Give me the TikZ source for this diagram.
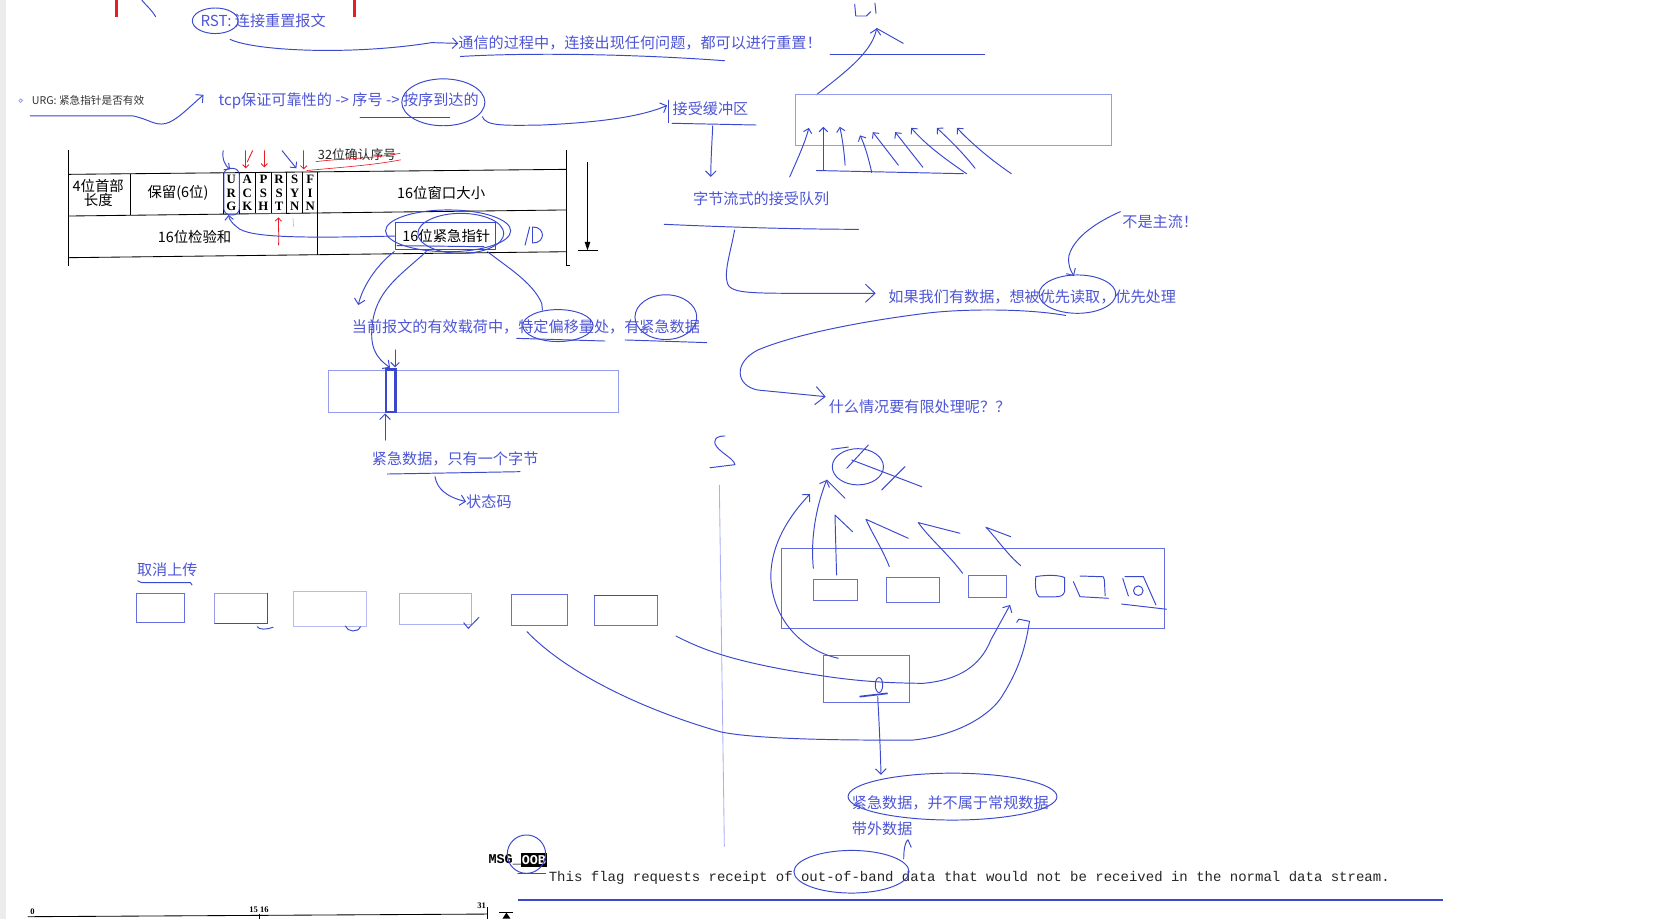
\documentclass[tikz,border=0pt]{standalone}
\usepackage{fontspec}
\setmainfont{Noto Sans CJK SC}
\newfontfamily\myMono{Liberation Mono}
\newfontfamily\mySerif{Liberation Serif}
\usetikzlibrary{arrows.meta}
\definecolor{hb}{RGB}{58,72,206}
\definecolor{tb}{RGB}{78,86,214}
\definecolor{lb}{RGB}{150,156,236}
\definecolor{mb}{RGB}{100,110,222}
\definecolor{rd}{RGB}{232,28,36}
\definecolor{gstrip}{RGB}{236,236,236}
\newcommand{\myNF}{\fontsize{14.2}{16}\selectfont}
\newcommand{\myTF}{\fontsize{13.5}{15}\selectfont}
\begin{document}
\begin{tikzpicture}[x=1pt,y=-1pt,
  hand/.style={draw=hb,line width=0.9pt,line cap=round,line join=round},
  harr/.style={hand,-{Straight Barb[length=5pt,width=10pt]}},
  harrs/.style={hand,-{Straight Barb[length=4pt,width=8pt]}},
  harrL/.style={hand,-{Straight Barb[length=9pt,width=17pt]}},
  note/.style={text=tb,font=\myNF,inner sep=0pt,anchor=west},
  cell/.style={text=black,font=\myTF,inner sep=0pt},
  flagtxt/.style={text=black,font=\mySerif\bfseries\fontsize{12}{13}\selectfont,inner sep=0pt},
  lrect/.style={draw=lb,line width=0.7pt},
  mrect/.style={draw=mb,line width=0.7pt},
  tbl/.style={draw=black,line width=0.8pt},
  redm/.style={draw=rd,line width=0.8pt,line cap=round},
  redarr/.style={redm,-{Straight Barb[length=3pt,width=6pt]}},
  mono/.style={font=\myMono\fontsize{13.15}{15}\selectfont,inner sep=0pt,anchor=west,text=black!85}
]
\useasboundingbox (0,0) rectangle (1568,862);
\fill[white] (0,0) rectangle (1568,862);
\fill[gstrip] (0,0) rectangle (6,862);

% ---------- top ----------
\draw[rd,line width=2.6pt] (109,0) -- (109,15.6);
\draw[rd,line width=2.6pt] (333,0) -- (333,15.6);
\draw[hand] (133,0) .. controls (138,6) and (143,10) .. (146,15.6);

\node[note] (rst) at (188,19.4) {RST: 连接重置报文};
\draw[hand] (202,19.5) ellipse [x radius=21.5, y radius=12];
\node[note] (tx) at (430,40.7) {通信的过程中，连接出现任何问题，都可以进行重置！};
\draw[harr] (216,37) .. controls (240,48) and (330,52) .. (405,40) -- (tx.west);
\draw[hand] (432,53) .. controls (500,49) and (600,51) .. (680,57);

\draw[hand] (779,50.7) -- (924,50.7);
\coordinate (uptip) at (822.6,26.6);
\draw[harr] (766,89) .. controls (790,70) and (818,50) .. (uptip);
\draw[hand] (uptip) -- (847.6,40.7);
\draw[hand] (802,4) -- (803,15) -- (813,15) -- (817,11);
\draw[hand] (821,3) -- (822,12.5);

% receive buffer
\draw[lrect] (746,89) rectangle (1043,136);
\draw[harrs] (741,166) .. controls (748,150) and (755,135) .. (759,120);
\draw[harrs] (772.6,160) -- (772.6,119);
\draw[harrs] (793,155) .. controls (792,140) and (790,128) .. (788,119);
\draw[harrs] (818,162) .. controls (815,148) and (811,135) .. (807,127);
\draw[harrs] (843,155) -- (819,124);
\draw[harrs] (866,157) -- (840,124);
\draw[harrs] (907,163) .. controls (885,148) and (868,135) .. (855,120);
\draw[harrs] (915,158) .. controls (905,145) and (892,132) .. (879,120);
\draw[harrs] (949,163) .. controls (930,150) and (912,135) .. (898,120);
\draw[hand] (766,160) -- (904,163);

% URG line
\draw[lb,line width=0.7pt] (19.4,94.5) circle (1.7);
\node[anchor=west,inner sep=0pt,text=black!80,font=\fontsize{10}{12}\selectfont] (urg) at (29.7,94.5) {URG: 紧急指针是否有效};
\node[note] (tcp) at (204.9,94.5) {tcp保证可靠性的 -> 序号 -> 按序到达的};
\draw[harr] (28.2,108.8) -- (125,108.8) .. controls (140,112) and (145,118) .. (155,116) .. controls (165,114) and (178,100) .. (191,89);
\draw[hand] (416,96) ellipse [x radius=39, y radius=22];
\draw[hand] (338,110) -- (422,110);
\node[note] (jsbuf) at (631,101.6) {接受缓冲区};
\draw[harr] (452.6,109.5) .. controls (456,118) and (470,118) .. (508.6,117.3) .. controls (560,115) and (600,110) .. (626,99);
\draw[hand] (627,94) -- (627,115);
\draw[hand] (630.6,115.7) -- (709.5,117.3);
\node[note] (zjl) at (650.2,186.1) {字节流式的接受队列};
\draw[harr] (668.8,118) .. controls (668,135) and (667,150) .. (667,166);
\draw[hand] (623.3,210.5) .. controls (680,213) and (740,215) .. (805.6,215.2);

\node[note] (rg) at (833.5,278.4) {如果我们有数据，想被优先读取，优先处理};
\draw[harrL] (689.3,215.8) .. controls (686,235) and (679,255) .. (682.6,266) .. controls (685,274) and (700,275) .. (734.6,275.2) -- (821.7,275.2);
\node[note] (bszl) at (1053,208) {不是主流！};
\draw[harr] (1051.3,198.6) .. controls (1030,208) and (1008,222) .. (1003,240) .. controls (1002,248) and (1004,253) .. (1007.7,259);
\draw[hand] (1011,276) ellipse [x radius=36, y radius=18];
\node[note] (smqk) at (777.5,381.6) {什么情况要有限处理呢？？};
\draw[harrL] (1000,296) .. controls (960,289) and (900,290) .. (868.6,294) .. controls (820,300) and (750,312) .. (711.2,328.4) .. controls (688,340) and (690,362) .. (711.2,366) -- (774.8,372.2);

% ---------- TCP header table ----------
\draw[tbl] (64.4,141) -- (64.4,250);
\draw[tbl] (531.9,141) -- (531.9,249) -- (535,249);
\draw[tbl] (64.4,163.6) -- (531.9,158.9);
\draw[tbl] (64.4,202.7) -- (531.9,197);
\draw[tbl] (64.4,241.8) -- (531.9,236.2);
\foreach \x/\a/\b in {122.4/163/202, 209.4/162.1/200.9, 224.6/161.9/200.7, 239.6/161.8/200.6, 254.7/161.7/200.4, 269.1/161.5/200.2, 283.9/161.4/200.0, 298.3/161.2/199.8}
  \draw[tbl] (\x,\a) -- (\x,\b);
\draw[tbl] (298.3,199.8) -- (298.3,239);
\node[cell] (c1) at (92.2,174.5) {4位首部};
\node[cell] (c1b) at (92.2,188) {长度};
\node[cell] (c2) at (167,180.5) {保留(6位)};
\foreach \cx/\l in {217/U,232.1/A,247.2/P,261.9/R,276.5/S,291.1/F} \node[flagtxt] at (\cx,168.5) {\l};
\foreach \cx/\l in {217/R,232.1/C,247.2/S,261.9/S,276.5/Y,291.1/I} \node[flagtxt] at (\cx,181) {\l};
\foreach \cx/\l in {217/G,232.1/K,247.2/H,261.9/T,276.5/N,291.1/N} \node[flagtxt] at (\cx,193.5) {\l};
\node[cell] (win) at (414,181.5) {16位窗口大小};
\node[cell] (chk) at (182.6,222.5) {16位检验和};
\node[cell] (urgp) at (418.9,221.5) {16位紧急指针};
\node[cell,font=\fontsize{12}{13}\selectfont,text=black!85] (ack32) at (335,145) {32位确认序号};
\draw[black,line width=0.9pt,-{Triangle[length=8pt,width=5pt]}] (551.3,151.7) -- (551.3,235);
\draw[black,line width=0.9pt] (542.3,235.2) -- (561.3,235.2);

% red marks
\draw[redarr] (230.6,141.4) -- (230.6,158);
\draw[redm] (237,141.4) -- (232,152);
\draw[redarr] (248,141.4) -- (248,157);
\draw[redarr] (285,141.4) -- (285,159);
\draw[redm,line width=0.6pt] (296.5,151.7) .. controls (315,149) and (350,149) .. (375.4,143.9);
\draw[redm,line width=0.6pt] (288,160) .. controls (320,157) and (350,155) .. (376,150);
\draw[redm] (239.6,200.6) -- (268,200.6);
\draw[redarr] (261.4,229.9) .. controls (262,220) and (261,212) .. (261.4,204);
\draw[rd!40,line width=0.6pt] (274.9,204.9) -- (275.5,212.7);

% blue marks on table
\draw[hand,rounded corners=6pt] (210,158) rectangle (224.6,201.7);
\draw[harrs] (209.4,141.4) .. controls (208,150) and (212,156) .. (215.9,158.9);
\draw[harrs] (264.7,141.4) -- (278.1,157.9);
\draw[harrs] (370.3,221.5) .. controls (300,223) and (240,224) .. (225,215) .. controls (218,210) and (215,206) .. (214.5,201.7);
\draw[hand,line width=0.7pt] (371.3,209) rectangle (465.1,233.6);
\draw[hand] (372.5,230.5) -- (454,231.5);
\draw[hand] (420.5,216.6) ellipse [x radius=58.7, y radius=19.6];
\draw[hand] (432.4,219) ellipse [x radius=40.3, y radius=18.8];
\draw[hand] (492.7,230) -- (497,213);
\draw[hand] (500,213) -- (500,228);
\draw[hand] (500,213) .. controls (512,213) and (512,228) .. (500,228);

% ---------- urgent pointer explanation ----------
\node[note] (dq) at (330,306.5) {当前报文的有效载荷中，特定偏移量处，有紧急数据};
\draw[harr] (370,236) .. controls (352,250) and (340,270) .. (336.2,286.2);
\draw[harr] (400,236) .. controls (380,255) and (355,270) .. (350,300) .. controls (346,325) and (352,335) .. (366,345);
\draw[harrs] (370.7,328.4) -- (370.7,344.7);
\draw[hand] (457.5,236.2) .. controls (475,250) and (500,265) .. (508.3,284.6) -- (509,291);
\draw[hand] (523.5,305.5) ellipse [x radius=33, y radius=15];
\draw[hand] (624.8,297.6) ellipse [x radius=29, y radius=21];
\draw[hand] (484.8,317.5) -- (567.7,320);
\draw[hand] (586.5,319) -- (663.1,321.5);
\draw[lrect] (308.1,347.2) rectangle (580.2,386.9);
\draw[hb,line width=2.2pt] (362.2,346.6) rectangle (371,386.3);
\node[note] (jj1) at (348.8,431) {紧急数据，只有一个字节};
\draw[harr] (361.3,412.9) -- (361.3,388);
\draw[hand] (363.4,444.8) -- (488,442.6);
\node[note] (ztm) at (437.3,470.7) {状态码};
\draw[harr] (408.2,447.3) .. controls (410,458) and (418,466) .. (ztm.west);

% ---------- cancel upload ----------
\node[note] (qx) at (128.4,534.9) {取消上传};
\draw[hand] (129.2,544.9) .. controls (132,547) and (135,547) .. (138,546.8) -- (178.8,546.8) -- (180.2,548.9);
\draw[draw=mb,line width=0.7pt] (128.4,556.8) rectangle (173.2,584.3);
\draw[lrect] (201.6,556.8) rectangle (251.2,585.2);
\draw[hand,line width=0.8pt] (251.2,556.8) -- (251.2,585.2) -- (201.6,585.2);
\draw[lrect,draw=lb!70] (274.9,555.2) rectangle (343.4,588);
\draw[lrect,draw=lb!80] (374.8,556.8) rectangle (442.5,585.8);
\draw[mrect] (479.5,557.7) rectangle (532.5,586.6);
\draw[mrect] (557.9,559) rectangle (617,586.6);
\draw[hand,line width=0.8pt] (557.9,559) -- (617,559);
\draw[hand] (241.3,588) .. controls (243,591) and (250,591) .. (256.3,588.6);
\draw[hand] (324,587.4) .. controls (326,593) and (336,594) .. (338.2,588);
\draw[hand] (435.1,584.3) -- (439.4,589.6) -- (449.4,579.3);

% ---------- right middle ----------
\draw[lb!80,line width=0.8pt] (675,455) -- (679.7,794.5);
\draw[hand] (680.3,409.1) .. controls (672,409) and (668,413) .. (672.5,419.2) .. controls (678,426) and (688,430) .. (689.7,436) -- (666.2,438.9);

\draw[mrect] (733.5,514.5) rectangle (1093,589.6);
\draw[mrect] (763,544) rectangle (804.5,563);
\draw[mrect] (831.4,541.7) rectangle (881.4,565.2);
\draw[mrect] (908.6,539.5) rectangle (944.6,560.5);
\draw[hand] (972,541) .. controls (985,539) and (995,540) .. (999,542) -- (999,555) .. controls (998,559) and (995,560) .. (990,560) -- (975,560) .. controls (972,558) and (971,550) .. (972,541);
\draw[hand] (1013.4,540.5) -- (1035.3,541.2) -- (1036.3,544.2) -- (1037,559);
\draw[hand] (1007.2,545.8) -- (1013.4,559.9) -- (1040,561.4);
\draw[hand] (1053.5,542.7) -- (1058.8,559.3);
\draw[hand] (1055.6,541.1) -- (1072.9,541.1) -- (1084.7,567.7);
\draw[hand] (1052.5,566.8) -- (1094.8,571.7);
\draw[hand] (1068.1,554.3) circle (4.5);

% crossed-out circle
\draw[hand] (805,438) ellipse [x radius=24, y radius=17];
\draw[hand] (780.4,421.6) -- (796,419.5);
\draw[hand] (794.5,439.5) -- (814.8,417.6);
\draw[hand] (799.2,431.6) -- (864.9,456.7);
\draw[hand] (827.3,459.8) -- (849.2,437.9);
\draw[hand] (775.7,450.4) -- (793,467.6);

% up arrows
\draw[harr] (763.2,533.3) .. controls (760,500) and (768,470) .. (775.7,450.4);
\draw[hand] (785,539.5) -- (783.5,483.3) -- (800,498.9);
\draw[hand] (834.5,531.7) .. controls (828,515) and (818,500) .. (812.6,487.3) -- (852.3,505.1);
\draw[hand] (903.3,538) .. controls (890,520) and (872,505) .. (861.7,490.4) -- (900.8,500.4);
\draw[hand] (957.8,530.8) .. controls (945,520) and (935,505) .. (925.2,494.8) -- (948.4,503.6);

% theta box
\draw[mrect] (772.6,614.6) rectangle (853.3,659.4);
\draw[hand] (824.8,642.8) ellipse [x radius=3.5, y radius=7];
\draw[hb,line width=1.6pt] (806.5,653.7) -- (833,650.6);
\draw[harr] (786.6,617.7) .. controls (760,612) and (730,590) .. (724,550.5) .. controls (720,520) and (735,490) .. (760,463.6);
\draw[harr] (634.2,596.8) .. controls (660,610) and (690,622) .. (772.6,634.3) .. controls (810,640) and (840,641) .. (866.4,641.2) .. controls (900,638) and (920,625) .. (930,600) -- (947.8,567.7);
\draw[hand] (494.5,592.7) .. controls (530,630) and (600,665) .. (675.6,686.6) .. controls (700,692) and (760,695) .. (857,694.4) .. controls (900,690) and (930,670) .. (940,653.7) .. controls (955,630) and (962,610) .. (966,583) -- (956,581) -- (954,584);

\node[note] (bsycg) at (799.2,753.2) {紧急数据，并不属于常规数据};
\node[note] (dwsj) at (799.2,777.3) {带外数据};
\draw[hand] (893.8,747.5) ellipse [x radius=98, y radius=22];
\draw[harr] (823.6,653.7) .. controls (825,680) and (826,700) .. (826.7,727);

% ---------- bottom ----------
\node[anchor=west,inner sep=0pt,font=\myMono\bfseries\fontsize{12.6}{14}\selectfont] (msg) at (458.3,807) {MSG\_};
\node[anchor=west,fill=black,text=white,inner xsep=0.5pt,inner ysep=2.5pt,font=\myMono\bfseries\fontsize{12.6}{14}\selectfont] (oob) at (msg.east) {OOB};
\draw[hand] (494,801.5) ellipse [x radius=18, y radius=18];
\draw[hand] (486,820) -- (512,820);
\node[mono] (flag) at (514.8,824.2) {This flag requests receipt of out-of-band data that would not be received in the normal data stream.};
\draw[hb,line width=2.6pt] (486,844.5) -- (1354,844.5);
\draw[hand] (799,818) ellipse [x radius=54, y radius=20];
\draw[hand] (848,806) .. controls (848,795) and (850,789) .. (852,788) -- (855,795);

\node[font=\mySerif\bfseries\fontsize{8}{9}\selectfont,inner sep=0pt] (r0) at (30.4,855.5) {0};
\node[font=\mySerif\bfseries\fontsize{8}{9}\selectfont,inner sep=0pt] (r15) at (243,853.9) {15 16};
\node[font=\mySerif\bfseries\fontsize{8}{9}\selectfont,inner sep=0pt] (r31) at (452,850) {31};
\draw[black,line width=0.8pt] (26,860.2) -- (457.4,857.7);
\draw[black,line width=0.8pt] (457.4,851) -- (457.4,862);
\draw[black,line width=0.6pt] (243,858) -- (243,862);
\draw[black,line width=0.7pt] (468.7,856.4) -- (481.8,856.4);
\fill[black] (475.2,856.4) -- (471.5,862) -- (479,862) -- cycle;
\end{tikzpicture}
\end{document}
